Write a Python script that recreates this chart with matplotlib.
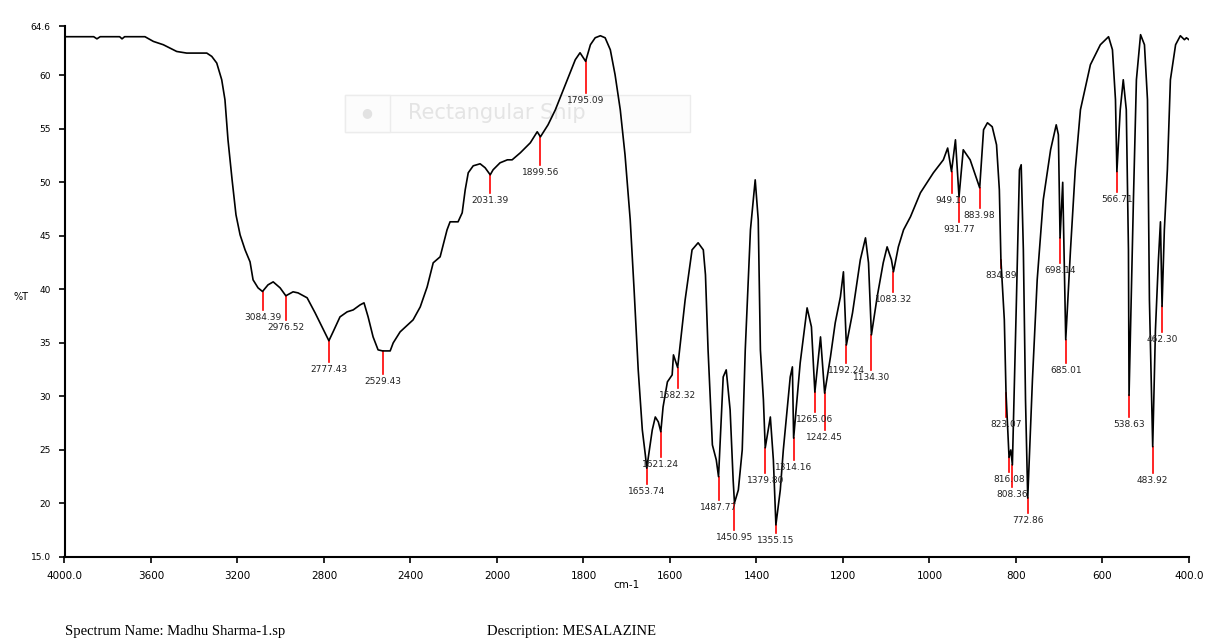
import numpy as np
import matplotlib
matplotlib.use("Agg")
import matplotlib.pyplot as plt
from matplotlib.patches import Rectangle

# ---- IR spectrum (wavenumber in cm-1, transmittance in %T) ----
wavenumber = [
    4000, 3865, 3850, 3835, 3745, 3734, 3722, 3628, 3589, 3543, 3481, 3435,
    3342, 3319, 3296, 3273, 3258, 3244, 3225, 3207, 3188, 3165, 3142, 3128,
    3105, 3084.39, 3059, 3035, 3003, 2976.52, 2943, 2920, 2878, 2841, 2809,
    2777.43, 2758, 2726, 2693, 2665, 2633, 2615, 2596, 2573, 2550, 2529.43,
    2494, 2480, 2448, 2388, 2355, 2323, 2295, 2263, 2231, 2217, 2180, 2161,
    2147, 2133, 2110, 2078, 2055, 2031.39, 2018, 1993, 1976, 1965, 1946, 1923,
    1907, 1899.56, 1882, 1865, 1842, 1819, 1808, 1795.09, 1784, 1773, 1761,
    1750, 1738, 1727, 1715, 1704, 1692, 1683, 1673.5, 1664, 1657, 1653.74,
    1641, 1634, 1627, 1621.24, 1616, 1606, 1595, 1592, 1582.32, 1565, 1549,
    1535, 1523, 1518, 1512, 1502, 1493, 1487.77, 1477, 1470, 1461, 1454,
    1450.95, 1442, 1433, 1426, 1414, 1403, 1396, 1391, 1384, 1379.80, 1368,
    1361, 1355.15, 1345, 1338, 1322, 1317, 1314.16, 1299, 1283, 1273,
    1265.06, 1252, 1242.45, 1229, 1218, 1206, 1199, 1192.24, 1178, 1160,
    1148, 1141, 1134.30, 1121, 1107, 1098, 1088, 1083.32, 1072, 1060, 1044,
    1021, 991, 968, 958, 949.10, 940, 931.77, 922, 906, 883.98, 875, 866, 855,
    845, 838.5, 834.89, 827, 823.07, 816.08, 812, 808.36, 799, 792, 788, 783,
    778, 772.86, 762, 751, 737, 720, 707, 702, 698.14, 692, 685.01, 674, 663,
    651, 628, 605, 586, 577, 570, 566.71, 559, 552, 545, 540, 538.63, 528.5,
    521.6, 512, 503, 496, 491.5, 483.92, 477.6, 470.7, 466, 462.30, 457, 450,
    443, 431, 420, 410.6, 406, 400,
]
transmittance = [
    63.6, 63.6, 63.4, 63.6, 63.6, 63.4, 63.6, 63.6, 63.16, 62.85, 62.22, 62.07,
    62.07, 61.76, 61.14, 59.58, 57.71, 53.97, 50.23, 46.96, 45.09, 43.69, 42.57,
    40.89, 40.14, 39.8, 40.42, 40.70, 40.14, 39.4, 39.77, 39.67, 39.21, 37.80,
    36.50, 35.2, 36.03, 37.43, 37.90, 38.08, 38.55, 38.74, 37.43, 35.56, 34.35,
    34.25, 34.25, 35.0, 36.03, 37.15, 38.36, 40.23, 42.48, 43.04, 45.56, 46.31,
    46.31, 47.15, 49.30, 50.89, 51.54, 51.73, 51.36, 50.7, 51.17, 51.82, 52.10,
    52.10, 52.76, 53.69, 54.72, 54.25, 55.37, 56.78, 59.11, 61.45, 62.10, 61.3,
    62.85, 63.50, 63.69, 63.50, 62.38, 60.05, 56.78, 52.57, 46.50, 39.95, 32.48,
    26.87, 24.53, 23.3, 26.87, 28.08, 27.62, 26.7, 29.02, 31.36, 32.01, 33.88,
    32.7, 39.02, 43.69, 44.35, 43.69, 41.36, 34.35, 25.47, 24.07, 22.5, 31.82,
    32.48, 28.74, 22.20, 20.05, 21.26, 25.0, 34.35, 45.56, 50.23, 46.50, 34.35,
    29.67, 25.2, 28.08, 24.07, 18.0, 21.26, 25.0, 31.82, 32.76, 26.1, 33.13,
    38.27, 36.50, 30.4, 35.56, 30.3, 33.69, 36.87, 39.30, 41.64, 34.8, 37.80,
    42.76, 44.81, 42.48, 35.75, 39.30, 42.48, 43.97, 42.76, 41.64, 43.97, 45.56,
    46.78, 49.02, 50.89, 52.10, 53.2, 51.0, 53.97, 48.64, 53.04, 52.10, 49.49,
    54.91, 55.56, 55.19, 53.50, 49.30, 42.76, 37.15, 30.33, 24.3, 25.0, 23.6,
    39.02, 51.17, 51.64, 43.69, 29.67, 20.5, 31.54, 40.89, 48.36, 53.04, 55.37,
    54.44, 44.8, 50.0, 35.3, 43.69, 51.17, 56.78, 60.98, 62.85, 63.60, 62.38,
    57.71, 51.0, 56.78, 59.58, 56.78, 43.69, 30.1, 48.36, 59.58, 63.79, 62.85,
    57.71, 39.02, 25.3, 36.21, 42.76, 46.31, 38.4, 45.56, 51.17, 59.58, 62.85,
    63.69, 63.32, 63.5, 63.32,
]

# Labelled absorption bands
peak_wavenumbers = [
    3084.39, 2976.52, 2777.43, 2529.43, 2031.39, 1899.56, 1795.09, 1653.74,
    1621.24, 1582.32, 1487.77, 1450.95, 1379.80, 1355.15, 1314.16, 1265.06,
    1242.45, 1192.24, 1134.30, 1083.32, 949.10, 931.77, 883.98, 834.89,
    823.07, 816.08, 808.36, 772.86, 698.14, 685.01, 566.71, 538.63, 483.92,
    462.30,
]
# Length of each marker line (pixels), so neighbouring labels are staggered
marker_len_px = [
    18, 24, 21, 23, 18, 28, 32, 16,
    25, 20, 23, 27, 25, 8, 22, 20,
    37, 18, 35, 20, 21, 25, 20, 8,
    24, 15, 22, 15, 25, 23, 20, 22, 26,
    26,
]

x_ticks = [4000, 3600, 3200, 2800, 2400, 2000, 1800, 1600, 1400, 1200, 1000, 800, 600, 400]
x_tick_labels = ["4000.0", "3600", "3200", "2800", "2400", "2000", "1800", "1600",
                 "1400", "1200", "1000", "800", "600", "400.0"]
y_ticks = [15, 20, 25, 30, 35, 40, 45, 50, 55, 60, 64.6]
y_tick_labels = ["15.0", "20", "25", "30", "35", "40", "45", "50", "55", "60", "64.6"]

spectrum_name = "Spectrum Name: Madhu Sharma-1.sp"
description = "Description: MESALAZINE"


# Wavenumber axis is compressed by a factor of two above 2000 cm-1
def fwd(w):
    w = np.asarray(w, dtype=float)
    return np.where(w > 2000, 2000 + (w - 2000) / 2.0, w)


def inv(u):
    u = np.asarray(u, dtype=float)
    return np.where(u > 2000, 2000 + (u - 2000) * 2.0, u)


W, H = 1208, 641
fig = plt.figure(figsize=(W / 100, H / 100), dpi=100)
ax_top, ax_bot = 26, 557
ax = fig.add_axes([64.5 / W, 1 - ax_bot / H, (1189 - 64.5) / W, (ax_bot - ax_top) / H])
ax.set_facecolor("none")
ax.set_xscale("function", functions=(fwd, inv))
ax.set_xlim(4000, 400)
ax.set_ylim(15, 64.6)
px_per_unit = (ax_bot - ax_top) / (64.6 - 15)

ax.plot(wavenumber, transmittance, color="black", lw=1.2, zorder=3)

# Peak markers: red drop line from the trace, value printed underneath
wn_arr = np.array(wavenumber)[::-1]
t_arr = np.array(transmittance)[::-1]
for pw, lp in zip(peak_wavenumbers, marker_len_px):
    t = float(np.interp(pw, wn_arr, t_arr))
    t_end = t - lp / px_per_unit
    ax.plot([pw, pw], [t, t_end], color="#ff0000", lw=1.2, zorder=2)
    ax.text(pw, t_end - 7.5 / px_per_unit, f"{pw:.2f}", ha="center", va="center",
            fontsize=6.5, color="#222222", family="DejaVu Sans", zorder=4)

ax.set_xticks(x_ticks)
ax.set_xticklabels(x_tick_labels)
ax.set_yticks(y_ticks)
ax.set_yticklabels(y_tick_labels)
ax.xaxis.set_minor_locator(matplotlib.ticker.NullLocator())
ax.tick_params(axis="x", direction="out", length=4, width=1.2, labelsize=7.5, pad=6)
ax.tick_params(axis="y", direction="out", length=4, width=1.2, labelsize=6.5, pad=6)
for s in ("top", "right"):
    ax.spines[s].set_visible(False)
for s in ("left", "bottom"):
    ax.spines[s].set_linewidth(1.5)

fig.text(627 / W, 1 - 585 / H, "cm-1", ha="center", va="center", fontsize=7.5)
fig.text(21 / W, 1 - 297 / H, "%T", ha="center", va="center", fontsize=7)

fig.text(65 / W, 1 - 632 / H, spectrum_name, ha="left", va="center",
         fontsize=10.5, family="Liberation Serif")
fig.text(487 / W, 1 - 632 / H, description, ha="left", va="center",
         fontsize=10.5, family="Liberation Serif")

# Faint snipping-tool overlay, kept behind the plot
for x0, w0 in ((345, 345), (345, 45)):
    fig.patches.append(Rectangle((x0 / W, 1 - 132 / H), w0 / W, 37 / H,
                                 transform=fig.transFigure, facecolor="#fcfcfc",
                                 edgecolor="#ececec", lw=1, zorder=-2))
fig.text(367 / W, 1 - 113 / H, "\u25cf", ha="center", va="center", fontsize=9,
         color="#e2e2e2", zorder=-1)
fig.text(408 / W, 1 - 113 / H, "Rectangular Snip", ha="left", va="center",
         fontsize=15, color="#e4e4e4", zorder=-1)

fig.savefig("out.png", dpi=100)
